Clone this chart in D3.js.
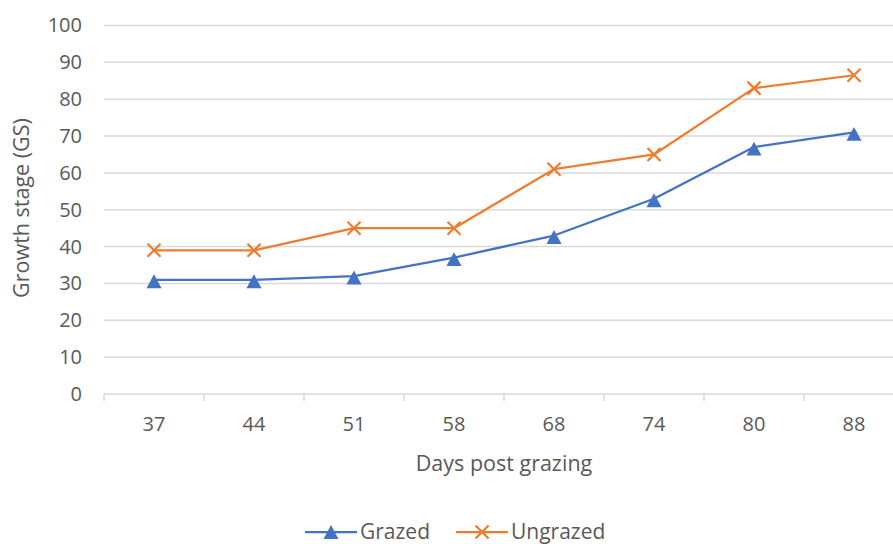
<!DOCTYPE html>
<html>
<head>
<meta charset="utf-8">
<script src="https://cdn.jsdelivr.net/npm/d3@7/dist/d3.min.js"></script>
<style>
  html, body { margin: 0; padding: 0; background: #fff; }
  svg { display: block; font-family: "Open Sans", sans-serif; }
</style>
</head>
<body>
<svg id="chart" width="893" height="544"></svg>
<script>
// Days after grazing (x categories)
const days = ["37", "44", "51", "58", "68", "74", "80", "88"];
// Mean growth stage per treatment
const grazed   = [31, 31, 32, 37, 43, 53, 67, 71];
const ungrazed = [39, 39, 45, 45, 61, 65, 83, 86.5];
const yTicks = [0, 10, 20, 30, 40, 50, 60, 70, 80, 90, 100];
const seriesNames = ["Grazed", "Ungrazed"];
const seriesColors = ["#4472C4", "#ED7D31"];

const W = 893, H = 544;
const svg = d3.select("#chart");

const x = d3.scaleBand().domain(days).range([104, 904]);
const y = d3.scaleLinear().domain([0, 100]).range([394, 25.5]);

// Triangle marker centred on its bounding box
const triangle = {
  draw(ctx, size) {
    const h = Math.sqrt(size) * 1.3;
    const w = h * 1.08;
    ctx.moveTo(0, -h / 2);
    ctx.lineTo(w / 2, h / 2);
    ctx.lineTo(-w / 2, h / 2);
    ctx.closePath();
  }
};

// Horizontal gridlines
svg.append("g")
  .selectAll("line")
  .data(yTicks.filter(v => v > 0))
  .join("line")
  .attr("x1", 104).attr("x2", W)
  .attr("y1", d => y(d)).attr("y2", d => y(d))
  .attr("stroke", "#d9d9d9").attr("stroke-width", 1.5);

// Y axis labels
const yAxis = svg.append("g")
  .attr("transform", "translate(104,0)")
  .call(d3.axisLeft(y).tickValues(yTicks).tickSize(0).tickPadding(22));
yAxis.select(".domain").remove();
yAxis.selectAll("text")
  .attr("font-family", "Open Sans").attr("font-size", 20).attr("fill", "#595959");

// X axis: baseline, labels and category-boundary ticks
const xAxis = svg.append("g")
  .attr("transform", "translate(0,394)")
  .call(d3.axisBottom(x).tickSize(0).tickPadding(23));
xAxis.select(".domain").remove();
xAxis.selectAll("text")
  .attr("font-family", "Open Sans").attr("font-size", 20).attr("fill", "#595959");

svg.append("line")
  .attr("x1", x.range()[0]).attr("x2", W)
  .attr("y1", y(0)).attr("y2", y(0))
  .attr("stroke", "#d9d9d9").attr("stroke-width", 1.5);

svg.append("g")
  .selectAll("line")
  .data(days)
  .join("line")
  .attr("x1", d => x(d)).attr("x2", d => x(d))
  .attr("y1", y(0)).attr("y2", y(0) + 7)
  .attr("stroke", "#d9d9d9").attr("stroke-width", 1.5);

// Axis titles
svg.append("text")
  .attr("x", 504).attr("y", 471)
  .attr("text-anchor", "middle")
  .attr("font-size", 21.5).attr("fill", "#595959")
  .text("Days post grazing");

svg.append("text")
  .attr("transform", "translate(29,208) rotate(-90)")
  .attr("text-anchor", "middle")
  .attr("font-size", 21.5).attr("fill", "#595959")
  .text("Growth stage (GS)");

// Series lines and markers
const line = d3.line()
  .x((d, i) => x(days[i]) + x.bandwidth() / 2)
  .y(d => y(d));

const seriesData = [grazed, ungrazed];

seriesData.forEach((vals, si) => {
  const color = seriesColors[si];
  svg.append("path")
    .datum(vals)
    .attr("d", line)
    .attr("fill", "none")
    .attr("stroke", color)
    .attr("stroke-width", 2.25)
    .attr("stroke-linejoin", "round");

  const g = svg.append("g");
  if (si === 0) {
    g.selectAll("path")
      .data(vals)
      .join("path")
      .attr("transform", (d, i) => `translate(${x(days[i]) + x.bandwidth() / 2},${y(d) + 1.5})`)
      .attr("d", d3.symbol(triangle, 115))
      .attr("fill", color);
  } else {
    g.selectAll("path")
      .data(vals)
      .join("path")
      .attr("transform", (d, i) => `translate(${x(days[i]) + x.bandwidth() / 2},${y(d)})`)
      .attr("d", d3.symbol(d3.symbolX, 112))
      .attr("fill", "none")
      .attr("stroke", color)
      .attr("stroke-width", 2.25);
  }
});

// Legend
const legendItems = [
  { name: seriesNames[0], color: seriesColors[0], x0: 305 },
  { name: seriesNames[1], color: seriesColors[1], x0: 456 }
];
const ly = 532;
legendItems.forEach((it, i) => {
  const g = svg.append("g");
  g.append("line")
    .attr("x1", it.x0).attr("x2", it.x0 + 52)
    .attr("y1", ly).attr("y2", ly)
    .attr("stroke", it.color).attr("stroke-width", 2.25);
  if (i === 0) {
    g.append("path")
      .attr("transform", `translate(${it.x0 + 26},${ly})`)
      .attr("d", d3.symbol(triangle, 115))
      .attr("fill", it.color);
  } else {
    g.append("path")
      .attr("transform", `translate(${it.x0 + 26},${ly})`)
      .attr("d", d3.symbol(d3.symbolX, 112))
      .attr("fill", "none").attr("stroke", it.color).attr("stroke-width", 2.25);
  }
  g.append("text")
    .attr("x", it.x0 + 55).attr("y", ly)
    .attr("dy", "0.35em")
    .attr("font-size", 21).attr("fill", "#595959")
    .text(it.name);
});
</script>
</body>
</html>
